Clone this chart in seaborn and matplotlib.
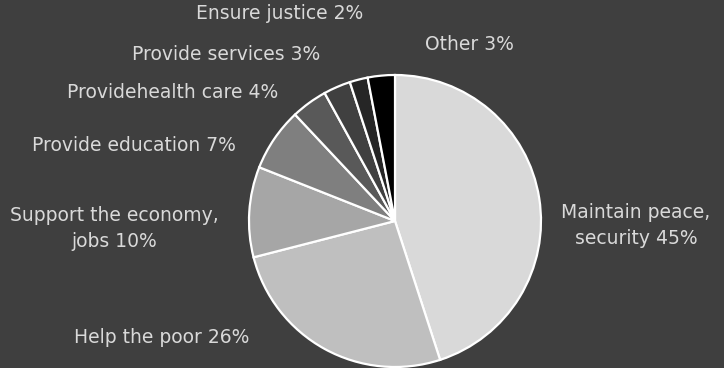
import matplotlib
matplotlib.use("Agg")
import matplotlib.pyplot as plt
import seaborn as sns

# Government priorities share
categories = [
    "Maintain peace,\nsecurity", "Help the poor", "Support the economy,\njobs",
    "Provide education", "Providehealth care", "Provide services",
    "Ensure justice", "Other",
]
shares = [45, 26, 10, 7, 4, 3, 2, 3]
slice_colors = ["#d9d9d9", "#bfbfbf", "#a6a6a6", "#7f7f7f",
                "#595959", "#404040", "#262626", "#000000"]

# label anchor points in pie units (radius = 1)
label_pos = [(1.65, -0.03), (-1.6, -0.8), (-1.92, -0.05), (-1.79, 0.52),
             (-1.52, 0.88), (-1.16, 1.14), (-0.79, 1.42), (0.51, 1.21)]

sns.set_theme(style="white")
bg = "#3f3f3f"
W, H = 724, 368
fig = plt.figure(figsize=(W / 100, H / 100), dpi=100, facecolor=bg)
cx, cy, r = 395, 221, 146
ax = fig.add_axes([(cx - r) / W, (H - cy - r) / H, 2 * r / W, 2 * r / H])
ax.set_facecolor("none")

wedges, _ = ax.pie(shares, colors=slice_colors, startangle=90, counterclock=False,
                   radius=1, wedgeprops=dict(edgecolor="white", linewidth=1.6))
for w in wedges:
    w.set_clip_on(False)

for name, val, (x, y) in zip(categories, shares, label_pos):
    ax.text(x, y, f"{name} {val}%", ha="center", va="center", color="#d9d9d9",
            fontsize=13.5, family="DejaVu Sans", linespacing=1.45, clip_on=False)

ax.set_xlim(-1, 1)
ax.set_ylim(-1, 1)
ax.axis("off")
fig.savefig("out.png", dpi=100, facecolor=bg)
